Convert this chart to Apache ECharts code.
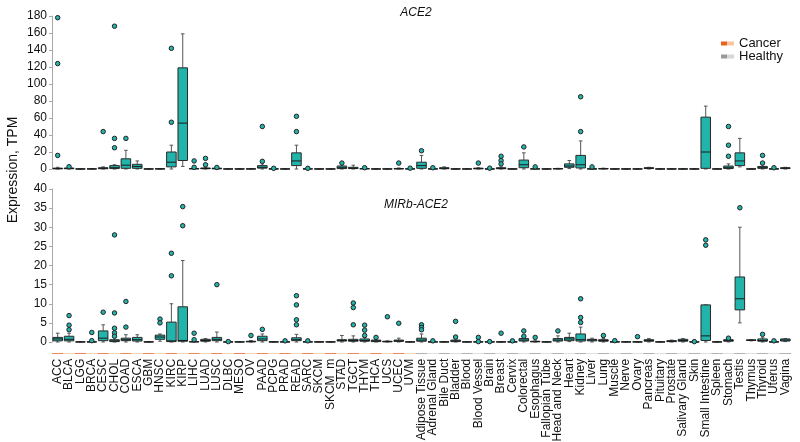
<!DOCTYPE html>
<html><head><meta charset="utf-8">
<script src="https://cdn.jsdelivr.net/npm/echarts/dist/echarts.min.js"></script>
<style>html,body{margin:0;padding:0;background:#fff}#c{width:800px;height:442px}</style>
</head><body><div id="c"></div>
<script>
const cancerTypes = ['ACC','BLCA','LGG','BRCA','CESC','CHOL','COAD','ESCA','GBM','HNSC','KIRC','KIRP','LIHC','LUAD','LUSC','DLBC','MESO','OV','PAAD','PCPG','PRAD','READ','SARC','SKCM','SKCM_m','STAD','TGCT','THYM','THCA','UCS','UCEC','UVM'];
const healthyTissues = ['Adipose Tissue','Adrenal Gland','Bile Duct','Bladder','Blood','Blood Vessel','Brain','Breast','Cervix','Colorectal','Esophagus','Fallopian Tube','Head and Neck','Heart','Kidney','Liver','Lung','Muscle','Nerve','Ovary','Pancreas','Pituitary','Prostate','Salivary Gland','Skin','Small Intestine','Spleen','Stomach','Testis','Thymus','Thyroid','Uterus','Vagina'];
const categories = cancerTypes.concat(healthyTissues);

const ace2Ticks = [0,20,40,60,80,100,120,140,160,180];
const mirbTicks = [0,5,10,15,20,25,30,35,40];

// [min, Q1, median, Q3, max] per category (TPM)
const ace2Box = [
 [0,0.2,0.5,1,2],[0,0.3,0.6,1.2,2],[0,0,0.05,0.1,0.2],[0,0.05,0.1,0.2,0.4],[0,0.3,0.8,1.5,2.5],
 [0,0.5,1.5,4,5],[0,0.8,4.5,12,22],[0,0.8,3,5.5,9.5],[0,0,0.05,0.1,0.2],[0,0.05,0.1,0.3,0.5],
 [0,2.5,8,20,28],[3,10,54,119,159],[0,0.1,0.3,0.6,1],[0,0.3,0.6,1.2,2],[0,0.2,0.5,1,1.5],
 [0,0,0.05,0.1,0.2],[0,0,0.05,0.1,0.2],[0,0.05,0.1,0.2,0.4],[0,1,2,4,6],[0,0.05,0.1,0.2,0.3],
 [0,0,0.05,0.1,0.2],[0,4,9.5,19,28],[0,0.05,0.1,0.2,0.3],[0,0,0.05,0.1,0.2],[0,0,0.05,0.1,0.2],
 [0,0.5,1.5,3.5,5],[0,0.5,1,2,4.5],[0,0.1,0.3,0.6,1],[0,0,0.05,0.1,0.2],[0,0,0.05,0.1,0.2],
 [0,0.1,0.3,0.6,1.2],[0,0.05,0.1,0.2,0.3],
 [0,0.8,4,8,16],[0,0.05,0.1,0.2,0.4],[0,0.3,0.8,1.5,2.5],[0,0,0.05,0.1,0.2],[0,0,0.05,0.1,0.2],
 [0,0.2,0.5,1,1.5],[0,0,0.05,0.1,0.2],[0,0.3,0.7,1.5,2.5],[0,0,0.05,0.1,0.2],[0,1.5,5,10.5,19],
 [0,0.05,0.1,0.2,0.4],[0,0,0.05,0.1,0.2],[0,0.1,0.3,0.5,0.8],[0.5,2,3.5,6,10],[0,1.2,5,16,33],
 [0,0.05,0.1,0.2,0.4],[0,0.1,0.3,0.6,1],[0,0,0.05,0.1,0.2],[0,0,0.05,0.1,0.2],[0,0,0.05,0.1,0.2],
 [0,0.5,1,1.5,2],[0,0,0.05,0.1,0.2],[0,0,0.05,0.1,0.2],[0,0,0.05,0.1,0.2],[0,0,0.05,0.1,0.2],
 [0,0.8,20,61,74],[0,0,0.05,0.1,0.2],[0,0.5,1.5,3.5,6],[2.5,4,9.5,19,36],[0,0,0.05,0.1,0.2],
 [0,0.8,1.5,3,5],[0,0.05,0.1,0.2,0.3],[0,0.5,1,1.5,2]
];
const ace2Outliers = [
 ['ACC',178],['ACC',124],['ACC',16],['BLCA',2.7],['CESC',44],['CHOL',168],['CHOL',36],['CHOL',25],
 ['COAD',36],['KIRC',142],['KIRC',55],['LIHC',9.5],['LIHC',2],['LUAD',12.5],['LUAD',5],['LUSC',1.8],
 ['PAAD',50],['PAAD',9],['PCPG',0.8],['READ',62],['READ',44],['SARC',0.8],['STAD',7],['THYM',1.5],
 ['UCEC',7],['UVM',1],['Adipose Tissue',21.5],['Adrenal Gland',1.5],['Blood Vessel',7],['Brain',1],
 ['Breast',15],['Breast',10],['Breast',6],['Colorectal',26],['Esophagus',2.5],['Kidney',85],['Kidney',44],
 ['Liver',2.5],['Stomach',50],['Stomach',28],['Stomach',15],['Thyroid',16],['Thyroid',7],['Uterus',1.5]
];

const mirbBox = [
 [0,0.3,0.8,1.2,2.3],[0,0.3,0.7,1.5,2.3],[0,0,0.02,0.05,0.1],[0,0,0.02,0.05,0.1],[0,0.35,1,2.9,4.5],
 [0,0.1,0.3,0.6,1.2],[0,0.35,0.6,1,1.9],[0,0.25,0.6,1.2,1.9],[0,0,0.02,0.05,0.1],[0.2,0.7,1.3,1.8,2.1],
 [0,0.1,0.3,5.2,10],[0,0.2,0.4,9.2,21.3],[0,0.02,0.05,0.1,0.15],[0,0.2,0.4,0.7,0.9],[0,0.35,0.7,1.2,2.6],
 [0,0,0.01,0.02,0.05],[0,0,0.02,0.05,0.1],[0,0.05,0.1,0.2,0.4],[0,0.35,0.8,1.5,2.1],[0,0,0.02,0.05,0.1],
 [0,0,0.02,0.05,0.1],[0,0.35,0.6,1.1,2],[0,0,0.02,0.05,0.1],[0,0,0.02,0.05,0.1],[0,0,0.02,0.05,0.1],
 [0,0.25,0.4,0.6,1.7],[0,0.2,0.4,0.7,1.6],[0,0.2,0.4,0.8,1.2],[0,0.1,0.3,0.5,0.8],[0,0.05,0.1,0.2,0.3],
 [0,0.15,0.3,0.5,1],[0,0,0.02,0.05,0.1],
 [0,0.2,0.5,1,2.1],[0,0,0.02,0.05,0.1],[0,0,0.02,0.05,0.1],[0,0.1,0.3,0.5,0.8],[0,0,0.02,0.05,0.1],
 [0,0,0.02,0.05,0.1],[0,0,0.02,0.05,0.1],[0,0,0.02,0.05,0.1],[0,0,0.02,0.05,0.1],[0,0.25,0.5,0.9,1.3],
 [0,0.05,0.1,0.2,0.3],[0,0,0.02,0.05,0.1],[0,0.25,0.5,0.9,1.6],[0.1,0.35,0.8,1.2,2.3],[0,0.25,0.6,2.1,3.9],
 [0,0.3,0.5,0.7,1],[0,0.2,0.4,0.6,0.9],[0,0,0.02,0.05,0.1],[0,0,0.02,0.05,0.1],[0,0,0.02,0.05,0.1],
 [0,0.2,0.4,0.6,0.9],[0,0,0.02,0.05,0.1],[0,0.1,0.2,0.35,0.5],[0,0.2,0.4,0.7,0.9],[0,0,0.02,0.05,0.1],
 [0,0.4,1.6,9.7,9.7],[0,0,0.02,0.05,0.1],[0,0.2,0.4,0.6,0.8],[5,8.4,11.3,17,30],[0.3,0.4,0.5,0.55,0.6],
 [0,0.2,0.4,0.8,1.1],[0,0,0.02,0.05,0.1],[0.1,0.25,0.5,0.8,0.9]
];
const mirbOutliers = [
 ['BLCA',6.9],['BLCA',4.4],['BLCA',3.2],['BRCA',2.5],['BRCA',0.35],['CESC',7.8],
 ['CHOL',28],['CHOL',7.6],['CHOL',3.6],['CHOL',2.4],['CHOL',1.5],['COAD',10.6],['COAD',3.9],
 ['HNSC',6],['HNSC',5],['KIRC',23.2],['KIRC',17.3],['KIRP',35.4],['KIRP',30.4],['LIHC',2.3],['LIHC',0.6],
 ['LUSC',15],['DLBC',0.1],['OV',1.7],['PAAD',3.3],['PRAD',0.3],['READ',12.1],['READ',9.7],['READ',5.8],['READ',4.5],
 ['SARC',0.3],['TGCT',10.2],['TGCT',9],['TGCT',4.5],['THYM',4.4],['THYM',3.1],['THYM',1.7],['THCA',1.2],
 ['UCS',6.6],['UCEC',4.9],['Adipose Tissue',4.5],['Adipose Tissue',3.8],['Adipose Tissue',3.2],['Adrenal Gland',0.3],
 ['Bladder',5.4],['Bladder',1.3],['Blood Vessel',1.2],['Blood Vessel',0.1],['Brain',0.1],['Breast',2.3],['Cervix',0.3],
 ['Colorectal',2.9],['Colorectal',1.5],['Esophagus',1.2],['Head and Neck',2.9],['Kidney',11.3],['Kidney',6.4],['Kidney',5.1],
 ['Lung',1.7],['Muscle',0.35],['Ovary',1.4],['Skin',0.1],['Small Intestine',26.7],['Small Intestine',25.3],
 ['Stomach',1.0],['Testis',35.1],['Thyroid',2],['Uterus',0.3]
];

const TEAL = '#22b3aa';
const FONT = "'Liberation Sans', Arial, sans-serif";
const CANCER_DARK = '#e8621e', CANCER_LIGHT = '#f8c7a2';
const HEALTHY_DARK = '#9a9a9a', HEALTHY_LIGHT = '#d6d6d6';

function renderBox(params, api) {
  const i = api.value(0);
  const x = api.coord([i, 0])[0];
  const bw = api.size([1, 0])[0];
  const hw = bw * 0.42;
  const y = [1,2,3,4,5].map(k => api.coord([i, api.value(k)])[1]);
  const cap = 1.8;
  const wl = {stroke:'#555', lineWidth:1};
  return {type:'group', children:[
    {type:'line', shape:{x1:x,y1:y[3],x2:x,y2:y[4]}, style:wl},
    {type:'line', shape:{x1:x,y1:y[1],x2:x,y2:y[0]}, style:wl},
    {type:'line', shape:{x1:x-cap,y1:y[4],x2:x+cap,y2:y[4]}, style:wl},
    {type:'line', shape:{x1:x-cap,y1:y[0],x2:x+cap,y2:y[0]}, style:wl},
    {type:'rect', shape:{x:x-hw, y:y[3], width:2*hw, height:Math.max(y[1]-y[3],0.01)}, style:{fill:TEAL, stroke:'#2a2a2a', lineWidth:1}},
    {type:'line', shape:{x1:x-hw,y1:y[2],x2:x+hw,y2:y[2]}, style:{stroke:'#1a1a1a', lineWidth:1}}
  ]};
}

function yAxisDef(gi, ticks) {
  return {type:'value', gridIndex:gi, min:ticks[0], max:ticks[ticks.length-1], interval:ticks[1]-ticks[0],
    axisLine:{show:true, lineStyle:{color:'#a8a8a8', width:1}},
    axisTick:{show:true, length:3, lineStyle:{color:'#a8a8a8'}},
    axisLabel:{margin:5, fontSize:12, color:'#111', fontFamily:FONT},
    splitLine:{show:false}};
}
function xAxisHidden(gi) {
  return {type:'category', gridIndex:gi, data:categories, boundaryGap:true, show:false};
}

const barColor = i => i < cancerTypes.length ? (i % 2 === 0 ? CANCER_DARK : CANCER_LIGHT)
  : ((i - cancerTypes.length) % 2 === 0 ? HEALTHY_DARK : HEALTHY_LIGHT);
const grad = (a, b) => ({type:'linear', x:0, y:0, x2:1, y2:0, colorStops:[
  {offset:0,color:a},{offset:0.5,color:a},{offset:0.5,color:b},{offset:1,color:b}]});

const chart = echarts.init(document.getElementById('c'), null, {renderer:'canvas'});
chart.setOption({
  animation:false,
  textStyle:{fontFamily:FONT},
  grid:[
    {left:52, right:9, top:16, height:153},
    {left:52, right:9, top:189, height:153},
    {left:52, right:9, top:353, height:3}
  ],
  xAxis:[
    xAxisHidden(0), xAxisHidden(1),
    {type:'category', gridIndex:2, data:categories, boundaryGap:true,
     axisLine:{show:false}, axisTick:{show:false},
     axisLabel:{rotate:90, interval:0, margin:5, fontSize:12, color:'#111', fontFamily:FONT}}
  ],
  yAxis:[ yAxisDef(0, ace2Ticks), yAxisDef(1, mirbTicks),
    {type:'value', gridIndex:2, min:0, max:1, show:false} ],
  legend:{orient:'vertical', left:716, top:32, itemWidth:13, itemHeight:4, itemGap:0,
    textStyle:{fontSize:13, color:'#111', fontFamily:FONT},
    data:[{name:'Cancer', icon:'rect', itemStyle:{color:grad(CANCER_DARK, CANCER_LIGHT)}},
          {name:'Healthy', icon:'rect', itemStyle:{color:grad(HEALTHY_DARK, HEALTHY_LIGHT)}}]},
  graphic:[
    {type:'text', x:416, y:13, style:{text:'ACE2', textAlign:'center', textVerticalAlign:'middle', font:"italic 12px 'Liberation Sans', Arial", fill:'#111'}},
    {type:'text', x:416, y:205, style:{text:'MIRb-ACE2', textAlign:'center', textVerticalAlign:'middle', font:"italic 12px 'Liberation Sans', Arial", fill:'#111'}},
    {type:'text', x:13, y:170, rotation:Math.PI/2, style:{text:'Expression, TPM', textAlign:'center', textVerticalAlign:'middle', font:"14px 'Liberation Sans', Arial", fill:'#111'}}
  ],
  series:[
    {type:'custom', xAxisIndex:0, yAxisIndex:0, renderItem:renderBox, encode:{x:0, y:[1,2,3,4,5]},
     data:ace2Box.map((b,i)=>[i].concat(b)), z:2},
    {type:'scatter', xAxisIndex:0, yAxisIndex:0, data:ace2Outliers, symbol:'circle', symbolSize:4.5,
     itemStyle:{color:TEAL, borderColor:'#222', borderWidth:1, opacity:1}, z:3},
    {type:'custom', xAxisIndex:1, yAxisIndex:1, renderItem:renderBox, encode:{x:0, y:[1,2,3,4,5]},
     data:mirbBox.map((b,i)=>[i].concat(b)), z:2},
    {type:'scatter', xAxisIndex:1, yAxisIndex:1, data:mirbOutliers, symbol:'circle', symbolSize:4.5,
     itemStyle:{color:TEAL, borderColor:'#222', borderWidth:1, opacity:1}, z:3},
    {name:'Cancer', type:'bar', xAxisIndex:2, yAxisIndex:2, stack:'g', barWidth:'100%',
     itemStyle:{color:CANCER_DARK},
     data:categories.map((c,i)=> i < cancerTypes.length ? {value:1, itemStyle:{color:barColor(i)}} : '-')},
    {name:'Healthy', type:'bar', xAxisIndex:2, yAxisIndex:2, stack:'g', barWidth:'100%',
     itemStyle:{color:HEALTHY_DARK},
     data:categories.map((c,i)=> i >= cancerTypes.length ? {value:1, itemStyle:{color:barColor(i)}} : '-')}
  ]
});
</script></body></html>
